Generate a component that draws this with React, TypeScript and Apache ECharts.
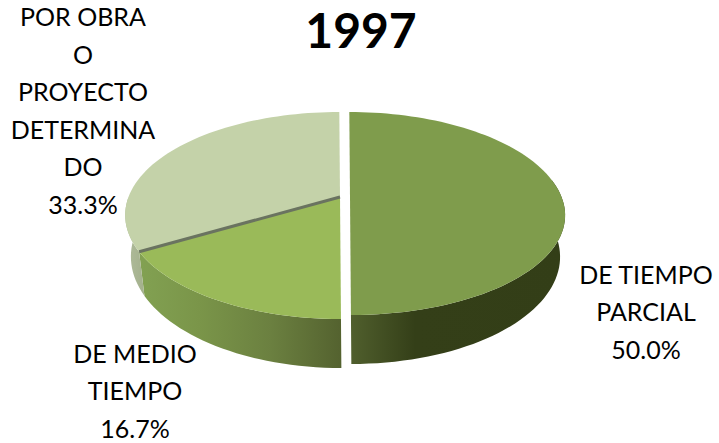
import React, { useEffect, useRef } from "react";
import * as echarts from "echarts";

const title = "1997";
const categories = ["DE TIEMPO\nPARCIAL", "DE MEDIO\nTIEMPO", "POR OBRA\nO\nPROYECTO\nDETERMINA\nDO"];
const values = [50.0, 16.7, 33.3];

const topColors = ["#7f9c4c", "#9aba59", "#c4d2a9"];
const wallStops = [
  [[0, "#505f2d"], [0.3, "#343f18"], [1, "#333e17"]],
  [[0, "#82a152"], [0.3, "#7a9549"], [0.65, "#6b8040"], [1, "#54622f"]],
  [[0, "#b0bc9c"], [1, "#a3b08c"]],
];
const pivots = [[350, 197], [340, 197], [340, 197]];
const belowScale = [0.967, 1, 1];
const labelAnchors = [[646, 311], [135, 390], [83, 110]];

const K = 0.179, A = 100.2, RX = 211.5, DEPTH = 40.2, WALL_X = 0.975, SKEW = 0.008, FONT = "Lato, Carlito, sans-serif";

function point(i: number, deg: number, lower: boolean) {
  const t = (deg * Math.PI) / 180;
  const s = Math.sin(t), c = Math.cos(t), d = 1 + K * c;
  let X = (s * RX) / d;
  let Y = (-c * A) / d;
  if (Y > 0) Y *= belowScale[i];
  if (lower) { X *= WALL_X; Y += DEPTH / d; }
  return [pivots[i][0] + X + SKEW * Y, pivots[i][1] + Y];
}

function arc(i: number, a: number, b: number, lower: boolean) {
  const n = Math.max(2, Math.ceil(Math.abs(b - a) / 2));
  const pts: number[][] = [];
  for (let k = 0; k <= n; k++) pts.push(point(i, a + ((b - a) * k) / n, lower));
  return pts;
}

function renderSlice(params: any, api: any) {
  const i = params.dataIndex;
  const total = values.reduce((p, v) => p + v, 0);
  const before = values.slice(0, i).reduce((p, v) => p + v, 0);
  const start = (before / total) * 360;
  const end = ((before + api.value(0)) / total) * 360;
  const children: any[] = [];

  const wa = Math.max(start, 80), wb = Math.min(end, 270);
  if (wa < wb) {
    const wall = [...arc(i, wa, wb, false), ...arc(i, wb, wa, true)];
    children.push({
      type: "polygon",
      shape: { points: wall },
      style: {
        fill: new echarts.graphic.LinearGradient(0, 0, 1, 0,
          wallStops[i].map(([offset, color]) => ({ offset: offset as number, color: color as string }))),
      },
    });
  }
  const pivot = pivots[i];
  children.push({
    type: "polygon",
    shape: { points: [pivot, ...arc(i, start, end, false)] },
    style: { fill: topColors[i] },
  });
  if (i === values.length - 1) {
    const rim = point(i, start, false);
    children.push({
      type: "line",
      shape: { x1: pivot[0], y1: pivot[1], x2: rim[0], y2: rim[1] },
      style: { stroke: "#6a7360", lineWidth: 3 },
    });
  }
  const label = `${categories[i]}\n${api.value(0).toFixed(1)}%`;
  children.push({
    type: "text",
    style: {
      text: label,
      x: labelAnchors[i][0],
      y: labelAnchors[i][1],
      align: "center",
      verticalAlign: "middle",
      fontFamily: FONT,
      fontSize: 25,
      lineHeight: 37.5,
      fill: "#000000",
    },
  });
  return { type: "group", children };
}

export default function App() {
  const ref = useRef<HTMLDivElement>(null);
  useEffect(() => {
    const chart = echarts.init(ref.current!, undefined, { renderer: "svg" });
    chart.setOption({
      animation: false,
      backgroundColor: "#ffffff",
      title: {
        text: title,
        left: 356,
        top: 24,
        textAlign: "center",
        textVerticalAlign: "middle",
        textStyle: { fontFamily: FONT, fontWeight: "bold", fontSize: 48, color: "#000000" },
      },
      series: [{
        type: "custom",
        coordinateSystem: "none",
        silent: true,
        renderItem: renderSlice,
        data: values.map((v) => [v]),
      }],
    });
    return () => chart.dispose();
  }, []);
  return <div ref={ref} style={{ position: "absolute", left: 0, top: 0, width: 719, height: 443 }} />;
}
